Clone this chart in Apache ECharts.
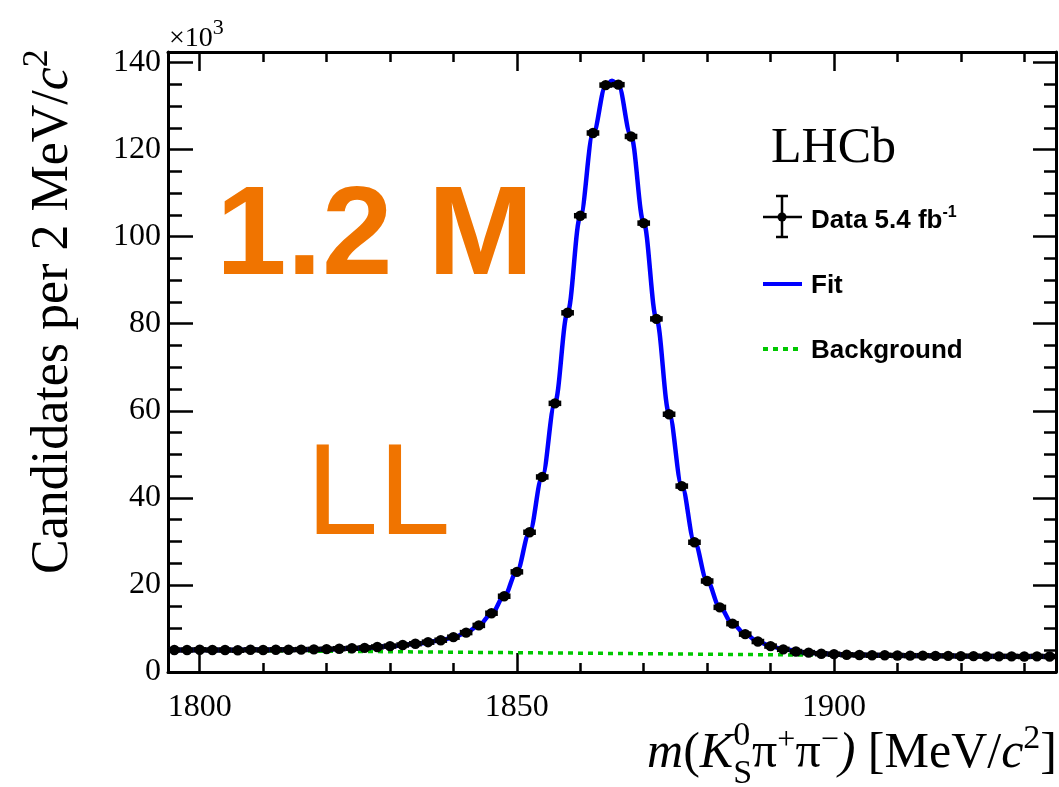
<!DOCTYPE html>
<html>
<head>
<meta charset="utf-8">
<script src="https://cdn.jsdelivr.net/npm/echarts@6/dist/echarts.min.js"></script>
<style>
html, body { margin: 0; padding: 0; background: #fff; }
#chart { width: 1059px; height: 787px; }
</style>
</head>
<body>
<div id="chart"></div>
<script>
// histogram: 2 MeV bins from 1795 to 1935
const xMin = 1795;
const xMax = 1935;
const binWidth = 2;
// candidates per bin, in units of 10^3
const counts = [
  5.05, 5.05, 5.10, 5.05, 5.05, 5.00, 5.10, 5.05, 5.10, 5.10,
  5.15, 5.20, 5.25, 5.35, 5.45, 5.55, 5.75, 5.95, 6.20, 6.50,
  6.85, 7.30, 8.00, 9.05, 10.7, 13.5, 17.4, 23.0, 32.1, 44.8,
  61.7, 82.5, 104.8, 123.8, 134.8, 134.9, 123.0, 103.1, 81.1, 59.2,
  42.7, 29.8, 20.9, 14.85, 11.1, 8.70, 7.00, 5.95, 5.20, 4.70,
  4.45, 4.20, 4.10, 3.95, 3.90, 3.85, 3.85, 3.80, 3.75, 3.75,
  3.70, 3.70, 3.65, 3.65, 3.60, 3.60, 3.60, 3.55, 3.60, 3.55
];
// total fit curve (10^3)
const fitMass = [1795, 1800, 1805, 1810, 1815, 1820, 1825, 1830, 1834, 1838,
  1840, 1842, 1844, 1846, 1848, 1850, 1852, 1854, 1856, 1858, 1860, 1862, 1864, 1865,
  1866, 1868, 1870, 1872, 1874, 1876, 1878, 1880, 1882, 1884, 1886, 1888, 1890,
  1892, 1896, 1900, 1905, 1910, 1920, 1935];
const fitVals = [5.05, 5.07, 5.08, 5.09, 5.12, 5.22, 5.45, 5.90, 6.45, 7.25,
  7.95, 9.0, 10.7, 13.4, 17.4, 23.1, 32.1, 44.9, 61.8, 82.6, 104.6, 123.5, 134.6, 135.8,
  134.8, 123.1, 103.2, 81.2, 59.4, 42.8, 29.9, 20.9, 14.9, 11.1, 8.7, 7.0, 5.95,
  5.2, 4.45, 4.1, 3.88, 3.79, 3.66, 3.55];
// background component (10^3)
const bkgMass = [1795, 1830, 1865, 1895, 1935];
const bkgVals = [5.05, 4.66, 4.27, 3.90, 3.52];
// tick positions
const xMajor = [1800, 1850, 1900];
const xMinor = [1810, 1820, 1830, 1840, 1860, 1870, 1880, 1890, 1910, 1920, 1930];
const yMajor = [0, 20, 40, 60, 80, 100, 120, 140];
const yMinor = [5, 10, 15, 25, 30, 35, 45, 50, 55, 65, 70, 75, 85, 90, 95,
  105, 110, 115, 125, 130, 135];
const yMax = 142.4;

const SERIF = '"Liberation Serif", "DejaVu Serif", serif';
const SANS = '"Liberation Sans", Arial, sans-serif';
const ORANGE = '#F07400';
const GREEN = '#00C800';

const dataPts = counts.map((c, i) => [xMin + binWidth / 2 + i * binWidth, c]);

function xAx(pos, ticks, len, main) {
  return {
    type: 'value', min: xMin, max: xMax, position: pos,
    axisLine: { show: main, onZero: false, lineStyle: { color: '#000', width: 3 } },
    axisTick: { show: true, inside: true, length: len, customValues: ticks,
      lineStyle: { color: '#000', width: 2.5 } },
    axisLabel: { show: main && pos === 'bottom', customValues: xMajor, formatter: v => String(v),
      fontFamily: SERIF, fontSize: 32, color: '#000', margin: 20 },
    splitLine: { show: false }
  };
}
function yAx(pos, ticks, len, main) {
  return {
    type: 'value', min: 0, max: yMax, position: pos,
    axisLine: { show: main, onZero: false, lineStyle: { color: '#000', width: 3 } },
    axisTick: { show: true, inside: true, length: len, customValues: ticks,
      lineStyle: { color: '#000', width: 2.5 } },
    axisLabel: { show: main && pos === 'left', customValues: yMajor, formatter: v => String(v),
      fontFamily: SERIF, fontSize: 32, color: '#000', margin: 7 },
    splitLine: { show: false }
  };
}

// lay out a run of text pieces (sub/superscripts) from a baseline origin
const mctx = document.createElement('canvas').getContext('2d');
function textRun(pieces) {
  let x = 0;
  const children = [];
  pieces.forEach(p => {
    const style = p.italic ? 'italic ' : '';
    const weight = p.bold ? 'bold ' : '';
    const font = style + weight + p.size + 'px ' + p.family;
    mctx.font = font;
    const w = mctx.measureText(p.t).width;
    children.push({
      type: 'text', x: x, y: (p.dy || 0) - 0.32 * p.size,
      style: { text: p.t, font: font, fill: p.color || '#000',
        align: 'left', verticalAlign: 'middle', textAlign: 'left', textVerticalAlign: 'middle' }
    });
    if (!p.stack) x += w;
  });
  return { children, width: x };
}

const xTitle = textRun([
  { t: 'm', size: 50, family: SERIF, italic: true },
  { t: '(', size: 50, family: SERIF },
  { t: 'K', size: 50, family: SERIF, italic: true },
  { t: '0', size: 34, family: SERIF, dy: -23, stack: true },
  { t: 'S', size: 34, family: SERIF, dy: 15 },
  { t: 'π', size: 50, family: SERIF },
  { t: '+', size: 32, family: SERIF, dy: -19 },
  { t: 'π', size: 50, family: SERIF },
  { t: '−', size: 32, family: SERIF, dy: -19 },
  { t: ')', size: 50, family: SERIF, italic: true },
  { t: ' [MeV/', size: 50, family: SERIF },
  { t: 'c', size: 50, family: SERIF, italic: true },
  { t: '2', size: 34, family: SERIF, dy: -20 },
  { t: ']', size: 50, family: SERIF }
]);
const yTitle = textRun([
  { t: 'Candidates per 2 MeV/', size: 52, family: SERIF },
  { t: 'c', size: 52, family: SERIF, italic: true },
  { t: '2', size: 36, family: SERIF, dy: -21 }
]);
const mult = textRun([
  { t: '×10', size: 28, family: SERIF },
  { t: '3', size: 22, family: SERIF, dy: -13 }
]);
const dataLeg = textRun([
  { t: 'Data 5.4 fb', size: 26, family: SANS, bold: true },
  { t: '-1', size: 16, family: SANS, bold: true, dy: -11 }
]);

const chart = echarts.init(document.getElementById('chart'));
chart.setOption({
  animation: false,
  backgroundColor: '#fff',
  grid: { left: 168, top: 52, right: 3, bottom: 115, outerBoundsMode: 'none' },
  xAxis: [
    xAx('bottom', xMajor, 19, true),
    xAx('bottom', xMinor, 9, false),
    xAx('top', xMajor, 19, true),
    xAx('top', xMinor, 10, false)
  ],
  yAxis: [
    yAx('left', yMajor, 25, true),
    yAx('left', yMinor, 14, false),
    yAx('right', yMajor, 23, true),
    yAx('right', yMinor, 12, false)
  ],
  series: [
    {
      name: 'Background', type: 'line', showSymbol: false, z: 3,
      data: bkgMass.map((m, i) => [m, bkgVals[i]]),
      lineStyle: { color: GREEN, width: 3.5, type: [5, 5] }
    },
    {
      name: 'Fit', type: 'line', showSymbol: false, z: 4,
      smooth: 0.35, smoothMonotone: 'x',
      data: fitMass.map((m, i) => [m, fitVals[i]]),
      lineStyle: { color: '#0000FF', width: 4.5 }
    },
    {
      name: 'Data', type: 'custom', z: 5, clip: true,
      data: dataPts, encode: { x: 0, y: 1 },
      renderItem(params, api) {
        const x = api.value(0), y = api.value(1);
        const c = api.coord([x, y]);
        const l = api.coord([x - binWidth / 2, y]);
        const r = api.coord([x + binWidth / 2, y]);
        return {
          type: 'group',
          children: [
            { type: 'line', shape: { x1: l[0], y1: c[1], x2: r[0], y2: c[1] },
              style: { stroke: '#000', lineWidth: 5.5 } },
            { type: 'circle', shape: { cx: c[0], cy: c[1], r: 5.2 }, style: { fill: '#000' } }
          ]
        };
      }
    }
  ],
  graphic: [
    { type: 'group', x: 1057 - xTitle.width, y: 770, children: xTitle.children },
    { type: 'group', x: 70, y: 574, rotation: Math.PI / 2, children: yTitle.children },
    { type: 'group', x: 169, y: 48, children: mult.children },
    { type: 'text', x: 771, y: 165 - 0.32 * 50,
      style: { text: 'LHCb', font: '50px ' + SERIF, fill: '#000', verticalAlign: 'middle', textVerticalAlign: 'middle' } },
    { type: 'text', x: 216, y: 280 - 0.32 * 127,
      style: { text: '1.2 M', font: 'bold 127px ' + SANS, fill: ORANGE, verticalAlign: 'middle', textVerticalAlign: 'middle' } },
    { type: 'text', x: 306, y: 540 - 0.32 * 130,
      style: { text: 'LL', font: '130px ' + SANS, fill: ORANGE, verticalAlign: 'middle', textVerticalAlign: 'middle' } },
    // legend
    { type: 'line', shape: { x1: 763, y1: 217, x2: 802, y2: 217 }, style: { stroke: '#000', lineWidth: 2.5 } },
    { type: 'line', shape: { x1: 782, y1: 196, x2: 782, y2: 237 }, style: { stroke: '#000', lineWidth: 2.5 } },
    { type: 'line', shape: { x1: 776, y1: 196, x2: 788, y2: 196 }, style: { stroke: '#000', lineWidth: 2.5 } },
    { type: 'line', shape: { x1: 776, y1: 237, x2: 788, y2: 237 }, style: { stroke: '#000', lineWidth: 2.5 } },
    { type: 'circle', shape: { cx: 782, cy: 217, r: 4.5 }, style: { fill: '#000' } },
    { type: 'group', x: 811, y: 229, children: dataLeg.children },
    { type: 'line', shape: { x1: 763, y1: 284, x2: 802, y2: 284 }, style: { stroke: '#0000FF', lineWidth: 4 } },
    { type: 'text', x: 811, y: 294 - 0.32 * 26,
      style: { text: 'Fit', font: 'bold 26px ' + SANS, fill: '#000', verticalAlign: 'middle', textVerticalAlign: 'middle' } },
    { type: 'line', shape: { x1: 763, y1: 349, x2: 802, y2: 349 },
      style: { stroke: GREEN, lineWidth: 4, lineDash: [5, 5] } },
    { type: 'text', x: 811, y: 359 - 0.32 * 26,
      style: { text: 'Background', font: 'bold 26px ' + SANS, fill: '#000', verticalAlign: 'middle', textVerticalAlign: 'middle' } }
  ]
});
</script>
</body>
</html>
